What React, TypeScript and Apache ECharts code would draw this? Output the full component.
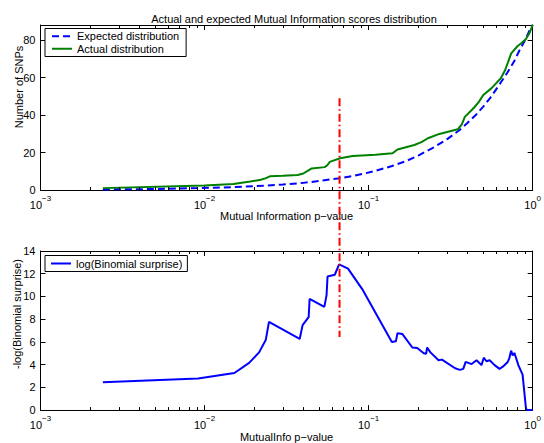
import React, { useEffect, useRef } from "react";
import * as echarts from "echarts";

// ---- data ----
const expectedP = [0.0024, 0.005, 0.0091, 0.015, 0.02, 0.03, 0.04, 0.05, 0.0667, 0.08, 0.1, 0.111, 0.139, 0.17, 0.202, 0.25, 0.3, 0.359, 0.4, 0.45, 0.5, 0.55, 0.614, 0.7, 0.77, 0.826, 0.9, 0.95, 1.0];
const expectedN = [0.3, 0.5, 1.0, 1.5, 2.0, 2.9, 3.8, 4.8, 6.3, 7.5, 9.3, 10.3, 12.8, 15.5, 18.5, 22.8, 27, 32, 35.7, 40, 44.5, 49, 55, 62.5, 68.5, 74, 80, 84.5, 88];

const actualP = [0.0024, 0.01, 0.015, 0.019, 0.022, 0.0235, 0.025, 0.03, 0.037, 0.04, 0.043, 0.045, 0.054, 0.056, 0.058, 0.067, 0.08, 0.11, 0.14, 0.15, 0.19, 0.21, 0.23, 0.27, 0.35, 0.37, 0.386, 0.44, 0.47, 0.5, 0.56, 0.64, 0.68, 0.74, 0.81, 0.86, 0.91, 0.96, 1.0];
const actualN = [1.0, 2.4, 3.2, 4.5, 5.5, 6.2, 7.3, 7.6, 8.0, 8.8, 10.5, 11.5, 12.2, 13.2, 15.0, 16.9, 18.1, 18.8, 19.6, 21.6, 24, 25.5, 27.6, 29.9, 32.4, 35, 39, 44, 47, 50.7, 54.2, 59.6, 64, 72.9, 76.8, 78.5, 80.5, 84, 88];

const surpriseP = [0.0024, 0.00914, 0.0152, 0.0187, 0.0215, 0.0236, 0.0247, 0.038, 0.0396, 0.0431, 0.0437, 0.0537, 0.0554, 0.0562, 0.0622, 0.0661, 0.0749, 0.0914, 0.1386, 0.1466, 0.15, 0.1608, 0.1847, 0.1979, 0.2168, 0.2242, 0.2274, 0.2382, 0.267, 0.28, 0.3366, 0.3606, 0.3776, 0.3905, 0.4245, 0.4549, 0.4875, 0.5035, 0.5226, 0.5471, 0.5862, 0.6282, 0.6577, 0.7047, 0.7211, 0.739, 0.7556, 0.7737, 0.7925, 0.818, 0.868, 0.91, 0.923, 1.0];
const surpriseV = [2.45, 2.78, 3.26, 4.16, 5.08, 6.16, 7.76, 6.26, 7.48, 8.18, 9.78, 9.08, 10.09, 11.75, 11.91, 12.82, 12.45, 10.65, 5.99, 6.05, 6.77, 6.69, 5.51, 5.46, 5.0, 4.95, 5.51, 5.08, 4.38, 4.44, 3.68, 3.54, 3.63, 4.24, 4.05, 4.38, 3.96, 4.61, 4.3, 4.38, 3.96, 3.63, 3.82, 4.24, 4.58, 5.23, 4.81, 5.03, 4.58, 3.96, 3.12, 0.17, 0, 0];

const thresholdP = 0.0665;
const thresholdSpan = [49, -78.4]; // in top-plot count units

const xMin = 0.001;
const xMax = 1;
const decades = [0.001, 0.01, 0.1];
const minorMultipliers = [2, 3, 4, 5, 6, 7, 8, 9];
const topYMax = 88;
const topYInterval = 20;
const bottomYMax = 14;
const bottomYInterval = 2;

const titleText = "Actual and expected Mutual Information scores distribution";
const topXName = "Mutual Information p\u2212value";
const bottomXName = "MutualInfo p\u2212value";
const topYName = "Number of SNPs";
const bottomYName = "-log(Binomial surprise)";

const FONT = "'Liberation Sans', Arial, Helvetica, sans-serif";

function zip(a: number[], b: number[]) {
  return a.map((v, i) => [v, b[i]]);
}

const minorTickValues: number[] = [];
decades.forEach((d) => minorMultipliers.forEach((m) => minorTickValues.push(d * m)));

function expLabel(v: number) {
  const e = Math.round(Math.log10(v));
  const s = e < 0 ? "\u2212" + Math.abs(e) : String(e);
  return `{b|10}{s|${s}}`;
}

function logX(gridIndex: number, position: "top" | "bottom", name?: string) {
  return {
    type: "log",
    logBase: 10,
    gridIndex,
    position,
    min: xMin,
    max: xMax,
    name: name || "",
    nameLocation: "middle",
    nameGap: 17,
    nameTextStyle: { fontFamily: FONT, fontSize: 11, color: "#000" },
    axisLine: { show: true, onZero: false, lineStyle: { color: "#000", width: 1 } },
    axisTick: { show: true, inside: true, length: 5, lineStyle: { color: "#000" } },
    minorTick: { show: false },
    splitLine: { show: false },
    minorSplitLine: { show: false },
    axisLabel: {
      show: position === "bottom",
      margin: 4,
      formatter: expLabel,
      rich: {
        b: { fontFamily: FONT, fontSize: 11, color: "#000", lineHeight: 16, verticalAlign: "bottom" },
        s: { fontFamily: FONT, fontSize: 8, color: "#000", lineHeight: 16, verticalAlign: "top" },
      },
    },
  };
}

function linY(gridIndex: number, position: "left" | "right", max: number, interval: number) {
  return {
    type: "value",
    gridIndex,
    position,
    min: 0,
    max,
    interval,
    axisLine: { show: true, onZero: false, lineStyle: { color: "#000", width: 1 } },
    axisTick: { show: true, inside: true, length: 5, lineStyle: { color: "#000" } },
    splitLine: { show: false },
    axisLabel: {
      show: position === "left",
      margin: 5,
      fontFamily: FONT,
      fontSize: 11,
      color: "#000",
      formatter: (v: number) => (v % interval === 0 ? String(v) : ""),
    },
  };
}

function minorTickSeries(xAxisIndex: number, yAxisIndex: number, yMax: number) {
  return {
    type: "custom",
    xAxisIndex,
    yAxisIndex,
    silent: true,
    clip: false,
    z: 10,
    data: minorTickValues.map((v) => [v, 0]),
    renderItem: (_params: any, api: any) => {
      const v = api.value(0);
      const b = api.coord([v, 0]);
      const t = api.coord([v, yMax]);
      const x = Math.round(b[0]) + 0.5;
      const st = { stroke: "#000", lineWidth: 1 };
      return {
        type: "group",
        children: [
          { type: "line", shape: { x1: x, y1: b[1], x2: x, y2: b[1] - 3 }, style: st },
          { type: "line", shape: { x1: x, y1: t[1], x2: x, y2: t[1] + 3 }, style: st },
        ],
      };
    },
  };
}

const legendCommon = {
  orient: "vertical",
  left: 45,
  borderColor: "#000",
  borderWidth: 1,
  backgroundColor: "#fff",
  itemGap: 0,
  itemWidth: 20,
  itemHeight: 11,
  selectedMode: false,
  itemStyle: { opacity: 0 },
  textStyle: { fontFamily: FONT, fontSize: 11, color: "#000", lineHeight: 12.5 },
};

export default function App() {
  const ref = useRef<HTMLDivElement>(null);
  useEffect(() => {
    if (!ref.current) return;
    const chart = echarts.init(ref.current, undefined, { renderer: "svg" });
    chart.setOption({
      animation: false,
      backgroundColor: "#fff",
      title: {
        text: titleText,
        left: 289,
        top: 8,
        textAlign: "center",
        textStyle: { fontFamily: FONT, fontSize: 11, fontWeight: "normal", color: "#000" },
      },
      grid: [
        { left: 40.5, top: 25, width: 498, height: 165 },
        { left: 40.5, top: 251, width: 498, height: 166 },
      ],
      xAxis: [
        logX(0, "bottom", topXName),
        logX(0, "top"),
        logX(1, "bottom", bottomXName),
        logX(1, "top"),
      ],
      yAxis: [
        linY(0, "left", topYMax, topYInterval),
        linY(0, "right", topYMax, topYInterval),
        linY(1, "left", bottomYMax, bottomYInterval),
        linY(1, "right", bottomYMax, bottomYInterval),
      ],
      legend: [
        { ...legendCommon, top: 28.5, padding: [1.5, 7, 1.5, 6], data: ["Expected distribution", "Actual distribution"] },
        { ...legendCommon, top: 255.5, padding: [1.75, 5, 1.75, 5], data: ["log(Binomial surprise)"] },
      ],
      graphic: [
        {
          type: "text",
          x: 19,
          y: 87,
          rotation: Math.PI / 2,
          style: { text: topYName, fontFamily: FONT, fontSize: 11, fill: "#000", textAlign: "center", textVerticalAlign: "middle" },
        },
        {
          type: "text",
          x: 17,
          y: 314,
          rotation: Math.PI / 2,
          style: { text: bottomYName, fontFamily: FONT, fontSize: 11, fill: "#000", textAlign: "center", textVerticalAlign: "middle" },
        },
      ],
      series: [
        {
          name: "Expected distribution",
          type: "line",
          xAxisIndex: 0,
          yAxisIndex: 0,
          data: zip(expectedP, expectedN),
          symbol: "none",
          color: "#0000ff",
          lineStyle: { color: "#0000ff", width: 2, type: [7, 4] },
        },
        {
          name: "Actual distribution",
          type: "line",
          xAxisIndex: 0,
          yAxisIndex: 0,
          data: zip(actualP, actualN),
          symbol: "none",
          color: "#008000",
          lineStyle: { color: "#008000", width: 2 },
        },
        {
          name: "log(Binomial surprise)",
          type: "line",
          xAxisIndex: 2,
          yAxisIndex: 2,
          data: zip(surpriseP, surpriseV),
          symbol: "none",
          color: "#0000ff",
          lineStyle: { color: "#0000ff", width: 2 },
        },
        {
          name: "threshold",
          type: "line",
          xAxisIndex: 0,
          yAxisIndex: 0,
          data: thresholdSpan.map((y) => [thresholdP, y]),
          symbol: "none",
          clip: false,
          silent: true,
          z: 5,
          color: "#ff0000",
          lineStyle: { color: "#ff0000", width: 2, type: [8, 3, 1.5, 3] },
        },
        minorTickSeries(0, 0, topYMax),
        minorTickSeries(2, 2, bottomYMax),
      ],
    });
    return () => chart.dispose();
  }, []);
  return (
    <div
      ref={ref}
      style={{ position: "fixed", left: 0, top: 0, width: 544, height: 443, background: "#fff" }}
    />
  );
}
